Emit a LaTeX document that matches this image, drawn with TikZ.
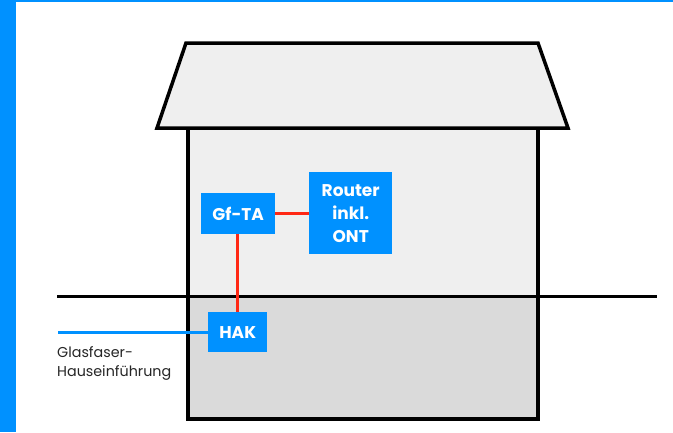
\documentclass[tikz,border=0pt]{standalone}
\usepackage{fontspec}
\setmainfont{Poppins}
\definecolor{bblue}{RGB}{0,145,255}
\definecolor{rred}{RGB}{255,40,20}
\definecolor{lgray}{RGB}{239,239,239}
\definecolor{dgray}{RGB}{218,218,218}
\begin{document}
\begin{tikzpicture}[x=1pt,y=-1pt,
  boxnode/.style={fill=bblue,text=white,font=\bfseries\fontsize{17}{23}\selectfont,align=center,inner sep=0pt,anchor=north west},
  wall/.style={draw=black,line width=3.5pt},
  redline/.style={draw=rred,line width=3pt},
  blueline/.style={draw=bblue,line width=3pt}]
\useasboundingbox (0,0) rectangle (673,432);
\fill[white] (0,0) rectangle (673,432);
\fill[bblue] (0,0) rectangle (16,432);
\fill[bblue] (0,0) rectangle (673,2);
% house body
\fill[lgray] (188,128) rectangle (538,296);
\fill[dgray] (188,296) rectangle (538,419);
\draw[wall,line join=miter] (188,128) -- (188,419) -- (538,419) -- (538,128);
% ground line
\draw[black,line width=3pt] (57,296) -- (657,296);
% roof
\draw[wall,fill=lgray,line join=miter] (186,43) -- (538,43) -- (568,128) -- (157,128) -- cycle;
% nodes
\node[boxnode,minimum width=74pt,minimum height=41pt] (gf) at (201,193) {Gf-TA};
\node[boxnode,minimum width=83pt,minimum height=82pt] (rt) at (309,172) {Router\\inkl.\\ONT};
\node[boxnode,minimum width=59pt,minimum height=40pt] (hak) at (208,312) {HAK};
\coordinate (fiber) at (58,332);
\draw[redline] (gf.east) -- (gf.east -| rt.west);
\draw[redline] (gf.south -| 237,0) -- (hak.north -| 237,0);
\draw[blueline] (fiber) -- (fiber -| hak.west);
\node[anchor=north west,align=left,inner sep=0pt,font=\fontsize{14.3}{19.5}\selectfont,text=black!85] (lbl) at (57,346) {Glasfaser-\\Hauseinführung};
\end{tikzpicture}
\end{document}
